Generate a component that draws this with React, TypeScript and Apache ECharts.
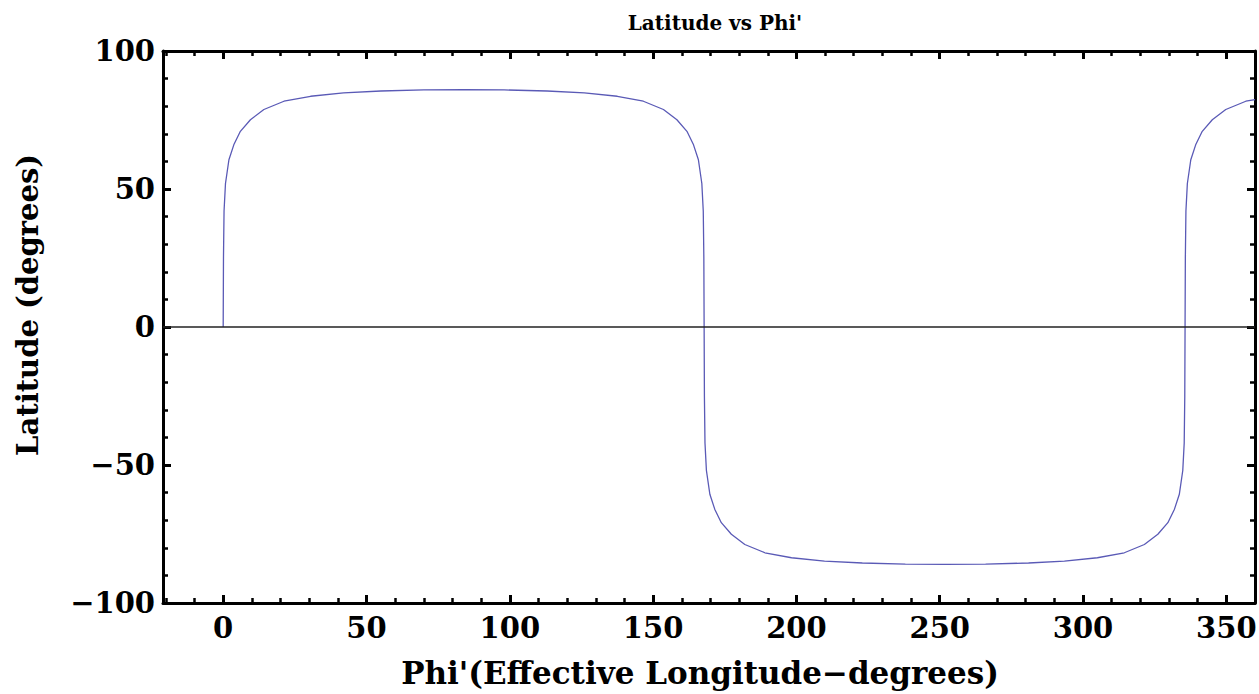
import React, { useEffect, useRef } from "react";
import * as echarts from "echarts";

const TITLE = "Latitude vs Phi'";
const X_NAME = "Phi'(Effective Longitude\u2212degrees)";
const Y_NAME = "Latitude (degrees)";

const PHI = [
  0, 0.1, 0.3, 0.8, 2.0, 3.7, 6.0, 9.5, 14.2, 21.2, 30.5, 42, 55, 70, 84, 98, 113, 126, 137.5,
  146.6, 153.6, 158.3, 161.8, 164.1, 165.8, 167.0, 167.5, 167.7, 167.8, 167.9, 168.1, 168.6,
  169.8, 171.5, 173.8, 177.3, 182, 189, 198.3, 209.8, 223, 238, 252, 266, 281, 293.5, 305,
  314.4, 321.4, 326.1, 329.6, 331.9, 333.6, 334.8, 335.3, 335.5, 335.6, 335.7, 335.9, 336.4,
  337.6, 339.3, 341.6, 345.1, 349.8, 356.8, 360,
];
const LATITUDE = [
  0, 25, 42, 52, 60.6, 66, 70.9, 75.1, 78.8, 81.8, 83.6, 84.8, 85.5, 85.9, 86, 85.9, 85.5, 84.8,
  83.6, 81.8, 78.8, 75.1, 70.9, 66, 60.6, 52, 42, 25, 0, -25, -42, -52, -60.6, -66, -70.9, -75.1,
  -78.8, -81.8, -83.6, -84.8, -85.5, -85.9, -86, -85.9, -85.5, -84.8, -83.6, -81.8, -78.8, -75.1,
  -70.9, -66, -60.6, -52, -42, -25, 0, 25, 42, 52, 60.6, 66, 70.9, 75.1, 78.8, 81.8, 82.4,
];

const X_MIN = -21;
const X_MAX = 360;
const X_MAJOR = [0, 50, 100, 150, 200, 250, 300, 350];
const X_MINOR = [-20, -10, 10, 20, 30, 40, 60, 70, 80, 90, 110, 120, 130, 140, 160, 170, 180, 190,
  210, 220, 230, 240, 260, 270, 280, 290, 310, 320, 330, 340];
const Y_MIN = -100;
const Y_MAX = 100;
const Y_STEP = 50;

const FONT = "DejaVu Serif";

export default function App() {
  const ref = useRef<HTMLDivElement>(null);
  useEffect(() => {
    if (!ref.current) return;
    const chart = echarts.init(ref.current, null, { renderer: "svg" });
    const frameLine = { show: true, onZero: false, lineStyle: { color: "#000", width: 3 } };
    const noLine = { show: false, onZero: false };
    const major = { show: true, inside: true, length: 8, lineStyle: { color: "#000", width: 3 } };
    const minor = { show: true, inside: true, length: 5, lineStyle: { color: "#000", width: 2.5 } };
    const minorY = { show: true, splitNumber: 5, length: 5, lineStyle: { color: "#000", width: 2.5 } };
    const labelStyle = { fontFamily: FONT, fontWeight: "bold" as const, fontSize: 29, color: "#000" };
    const minusFmt = (v: number) => String(v).replace("-", "\u2212");
    const xBase = { type: "value" as const, min: X_MIN, max: X_MAX, splitLine: { show: false } };
    const yBase = {
      type: "value" as const, min: Y_MIN, max: Y_MAX, interval: Y_STEP,
      splitLine: { show: false }, minorSplitLine: { show: false },
    };
    const data = PHI.map((x, i) => [x, LATITUDE[i]]);
    chart.setOption({
      animation: false,
      backgroundColor: "#fff",
      title: {
        text: TITLE, left: 710, top: 8, textAlign: "center",
        textStyle: { fontFamily: FONT, fontWeight: "bold", fontSize: 20, color: "#000" },
      },
      grid: { left: 163, right: 4, top: 51, bottom: 91, containLabel: false, outerBoundsMode: "none" },
      xAxis: [
        {
          ...xBase, position: "bottom", axisLine: frameLine,
          axisTick: { ...major, customValues: X_MAJOR },
          axisLabel: { ...labelStyle, margin: 10, customValues: X_MAJOR, formatter: minusFmt },
          name: X_NAME, nameLocation: "middle", nameGap: 54,
          nameTextStyle: { fontFamily: FONT, fontWeight: "bold", fontSize: 31, color: "#000", padding: [0, 18, 0, 0] },
        },
        { ...xBase, position: "bottom", axisLine: noLine, axisTick: { ...minor, customValues: X_MINOR }, axisLabel: { show: false } },
        { ...xBase, position: "top", axisLine: frameLine, axisTick: { ...major, customValues: X_MAJOR }, axisLabel: { show: false } },
        { ...xBase, position: "top", axisLine: noLine, axisTick: { ...minor, customValues: X_MINOR }, axisLabel: { show: false } },
      ],
      yAxis: [
        {
          ...yBase, position: "left", axisLine: frameLine, axisTick: major, minorTick: minorY,
          axisLabel: { ...labelStyle, margin: 8, formatter: minusFmt },
        },
        {
          ...yBase, position: "right", axisLine: frameLine, axisTick: major, minorTick: minorY,
          axisLabel: { show: false },
        },
      ],
      graphic: [
        {
          type: "text", x: 28, y: 305, rotation: Math.PI / 2,
          style: {
            text: Y_NAME, fontFamily: FONT, fontWeight: "bold", fontSize: 29, fill: "#000",
            textAlign: "center", textVerticalAlign: "middle",
          },
        },
      ],
      series: [
        {
          type: "line", xAxisIndex: 0, yAxisIndex: 0, data,
          showSymbol: false, smooth: false,
          lineStyle: { color: "#5a5ab6", width: 1.3 },
          markLine: {
            silent: true, symbol: ["none", "none"], label: { show: false },
            lineStyle: { color: "#222", width: 1.5, type: "solid" },
            data: [{ yAxis: 0 }],
          },
          z: 3,
        },
      ],
    });
    return () => chart.dispose();
  }, []);
  return <div ref={ref} style={{ width: 1259, height: 694, position: "absolute", left: 0, top: 0 }} />;
}
